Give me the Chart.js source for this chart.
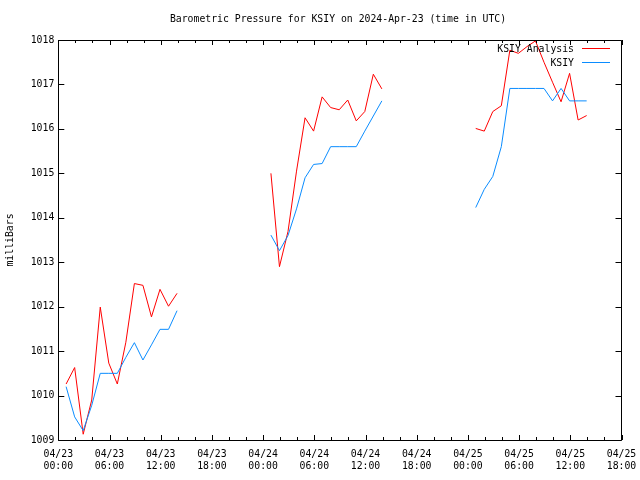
<!DOCTYPE html>
<html>
<head>
<meta charset="utf-8">
<script src="https://cdn.jsdelivr.net/npm/chart.js@4.4.1/dist/chart.umd.min.js"></script>
<style>
  html, body { margin: 0; padding: 0; background: #fff; }
  #wrap { width: 640px; height: 480px; }
</style>
</head>
<body>
<div id="wrap"><canvas id="pressureChart" width="640" height="480"></canvas></div>
<script>
// hours since 04/23 00:00 UTC, each observation taken at hh:55
const obsHours = [0, 1, 2, 3, 4, 5, 6, 7, 8, 9, 10, 11, 12, 13,
                  24, 25, 26, 27, 28, 29, 30, 31, 32, 33, 34, 35, 36, 37,
                  48, 49, 50, 51, 52, 53, 54, 55, 56, 57, 58, 59, 60, 61];
const obsMinute = 55;

// KSIY Analysis (red)
const analysisValues = [1010.26, 1010.63, 1009.13, 1009.9, 1011.99, 1010.73, 1010.26, 1011.2, 1012.52, 1012.48, 1011.77, 1012.39, 1012.01, 1012.3,
                        1015.0, 1012.9, 1013.69, 1015.05, 1016.25, 1015.95, 1016.72, 1016.48, 1016.43, 1016.65, 1016.18, 1016.39, 1017.23, 1016.9,
                        1016.01, 1015.95, 1016.39, 1016.52, 1017.77, 1017.7, 1017.85, 1017.98, 1017.5, 1017.05, 1016.61, 1017.25, 1016.2, 1016.3];

// KSIY observed (blue)
const stationValues = [1010.2, 1009.52, 1009.21, 1009.78, 1010.5, 1010.5, 1010.5, 1010.86, 1011.19, 1010.8, 1011.14, 1011.49, 1011.49, 1011.91,
                       1013.61, 1013.26, 1013.6, 1014.2, 1014.9, 1015.2, 1015.22, 1015.6, 1015.6, 1015.6, 1015.6, 1015.95, 1016.29, 1016.63,
                       1014.23, 1014.64, 1014.93, 1015.6, 1016.91, 1016.91, 1016.91, 1016.91, 1016.91, 1016.63, 1016.91, 1016.63, 1016.63, 1016.63];

const xTickHours = [0, 6, 12, 18, 24, 30, 36, 42, 48, 54, 60, 66];
const xTickLabels = ['04/23 00:00', '04/23 06:00', '04/23 12:00', '04/23 18:00',
                     '04/24 00:00', '04/24 06:00', '04/24 12:00', '04/24 18:00',
                     '04/25 00:00', '04/25 06:00', '04/25 12:00', '04/25 18:00'];
const yTicks = [1009, 1010, 1011, 1012, 1013, 1014, 1015, 1016, 1017, 1018];

const FONT = "'DejaVu Sans Mono', monospace";
const RED = '#ff0000';
const BLUE = '#0a8cff';

// turn a value list into points, breaking the line where hours jump
function buildSeries(values) {
    const pts = [];
    obsHours.forEach((h, i) => {
        if (i > 0 && h - obsHours[i - 1] > 1) {
            pts.push({ x: obsHours[i - 1] + 1.5, y: null });
        }
        pts.push({ x: h + obsMinute / 60, y: values[i] });
    });
    return pts;
}

// frame, inward ticks, title, axis label and legend like the gnuplot original
const gnuplotDecor = {
    id: 'gnuplotDecor',
    afterDraw(chart) {
        const ctx = chart.ctx;
        const a = chart.chartArea;
        const xs = chart.scales.x;
        const ys = chart.scales.y;
        ctx.save();
        ctx.strokeStyle = '#000';
        ctx.lineWidth = 1;
        ctx.beginPath();
        ctx.rect(Math.round(a.left) + 0.5, Math.round(a.top) + 0.5,
                 Math.round(a.right - a.left), Math.round(a.bottom - a.top));
        ctx.stroke();

        ctx.beginPath();
        for (let h = 0; h <= 66; h += 2) {
            const px = Math.round(xs.getPixelForValue(h)) + 0.5;
            const len = h % 6 === 0 ? 5 : 3;
            ctx.moveTo(px, a.bottom); ctx.lineTo(px, a.bottom - len);
            ctx.moveTo(px, a.top); ctx.lineTo(px, a.top + len);
        }
        yTicks.forEach(v => {
            const py = Math.round(ys.getPixelForValue(v)) + 0.5;
            ctx.moveTo(a.left, py); ctx.lineTo(a.left + 6, py);
            ctx.moveTo(a.right, py); ctx.lineTo(a.right - 6, py);
        });
        ctx.stroke();

        ctx.fillStyle = '#000';
        ctx.font = '9.8px ' + FONT;
        ctx.textAlign = 'center';
        ctx.textBaseline = 'middle';
        ctx.fillText('Barometric Pressure for KSIY on 2024-Apr-23 (time in UTC)', 338, 19);

        ctx.save();
        ctx.translate(10, 240);
        ctx.rotate(-Math.PI / 2);
        ctx.fillText('milliBars', 0, 0);
        ctx.restore();

        ctx.textAlign = 'right';
        chart.data.datasets.forEach((ds, i) => {
            const y = 49 + i * 14;
            ctx.fillStyle = '#000';
            ctx.fillText(ds.label, 574, y);
            ctx.strokeStyle = ds.borderColor;
            ctx.beginPath();
            ctx.moveTo(582, y - 0.5);
            ctx.lineTo(610, y - 0.5);
            ctx.stroke();
        });
        ctx.restore();
    }
};

new Chart(document.getElementById('pressureChart'), {
    type: 'line',
    data: {
        datasets: [{
            label: 'KSIY Analysis',
            data: buildSeries(analysisValues),
            borderColor: RED,
            borderWidth: 1,
            pointRadius: 0,
            tension: 0,
            spanGaps: false,
            order: 1
        }, {
            label: 'KSIY',
            data: buildSeries(stationValues),
            borderColor: BLUE,
            borderWidth: 1,
            pointRadius: 0,
            tension: 0,
            spanGaps: false,
            order: 0
        }]
    },
    options: {
        responsive: false,
        animation: false,
        devicePixelRatio: 1,
        layout: { padding: { top: 40, right: 18.5, left: 0, bottom: 0 } },
        plugins: {
            legend: { display: false },
            title: { display: false },
            tooltip: { enabled: false }
        },
        scales: {
            x: {
                type: 'linear',
                min: 0,
                max: 66,
                afterBuildTicks: scale => { scale.ticks = xTickHours.map(v => ({ value: v })); },
                afterFit: scale => {
                    scale.height = 40;
                    scale.paddingLeft = 0;
                    scale.paddingRight = 0;
                },
                grid: { display: false, drawTicks: false },
                border: { display: false },
                ticks: {
                    autoSkip: false,
                    maxRotation: 0,
                    padding: 9,
                    color: '#000',
                    font: { family: FONT, size: 9.8, lineHeight: 1.2 },
                    callback: (v, i) => xTickLabels[i].split(' ')
                }
            },
            y: {
                min: 1009,
                max: 1018,
                afterBuildTicks: scale => { scale.ticks = yTicks.map(v => ({ value: v })); },
                afterFit: scale => {
                    scale.width = 58.3;
                    scale.paddingTop = 0;
                    scale.paddingBottom = 0;
                },
                grid: { display: false, drawTicks: false },
                border: { display: false },
                ticks: {
                    padding: 4,
                    color: '#000',
                    font: { family: FONT, size: 9.8 },
                    callback: v => String(v)
                }
            }
        }
    },
    plugins: [gnuplotDecor]
});
</script>
</body>
</html>
